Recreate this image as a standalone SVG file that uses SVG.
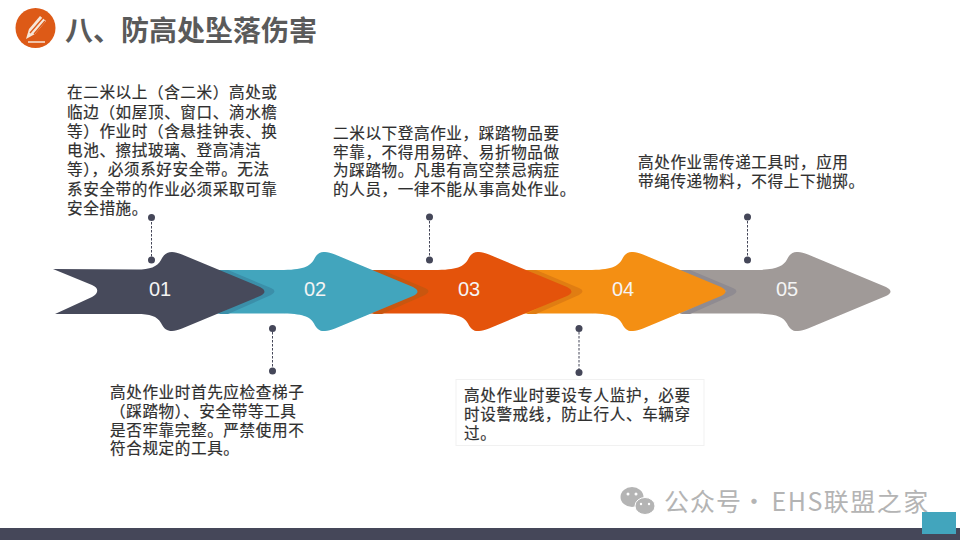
<svg xmlns="http://www.w3.org/2000/svg" width="960" height="540" viewBox="0 0 960 540">
<style>
.t{font-family:"Liberation Sans","Noto Sans CJK SC",sans-serif;font-size:15.6px;letter-spacing:.6px;fill:#2f2f2f;stroke:#2f2f2f;stroke-width:.2px;}
.n{font-family:"Liberation Sans",Arial,sans-serif;font-size:20px;fill:#f4f4f4;text-anchor:middle;}
.h{font-family:"Noto Sans CJK SC","Liberation Sans",sans-serif;font-size:28px;font-weight:700;fill:#5a5a5a;}
.c{stroke:#454759;stroke-width:1;stroke-dasharray:2.5 1.5;fill:none;}
.d{fill:#454759;}
</style>
<defs>
<path id="arrow" d="M-118 -21.500L-45 -21.500C-22 -21.500 -15 -25 -11 -32C-8 -38 -5 -40 0 -39.500C3 -39.500 6 -38.500 10 -37L88 -4.500C94 -1.500 94 1.500 88 4.500L10 37C6 38.500 3 39.500 0 39.500C-5 40 -8 38 -11 32C-15 25 -22 22 -45 22L-118 22Z"/>
</defs>
<rect width="960" height="540" fill="#fff"/>
<g id="header">
<circle cx="35.500" cy="28" r="20" fill="#dd5a17"/>
<path d="M26 39L29 29L40 16L46 21L35 34Z" fill="#f6e6d8"/>
<path d="M30 33L43 18M34 34L45 21" stroke="#dd5a17" stroke-width="1.300" fill="none"/>
<path d="M28 42H45" stroke="#f6e6d8" stroke-width="1.500"/>
<text class="h" x="65" y="41">八、</text>
<text class="h" x="121" y="41">防高处坠落伤害</text>
</g>
<g id="node-05"><use href="#arrow" x="798" y="291.500" fill="#a09a98"/>
<path d="M680 270L690 270L733 288Q740 291 733 295L690 314L680 314L727 291Z" fill="#8f8b91"/>
<text class="n" x="787" y="296">05</text></g>
<g id="node-04"><use href="#arrow" x="633" y="291.500" fill="#f48f13"/>
<path d="M526 270L536 270L579 288Q586 291 579 295L536 314L526 314L572 291Z" fill="#e07d12"/>
<text class="n" x="623" y="296">04</text></g>
<g id="node-03"><use href="#arrow" x="479" y="291.500" fill="#e4530b"/>
<path d="M372 270L382 270L425 288Q432 291 425 295L382 314L372 314L418 291Z" fill="#c9560f"/>
<text class="n" x="469" y="296">03</text></g>
<g id="node-02"><use href="#arrow" x="325" y="291.500" fill="#42a5bd"/>
<path d="M218 270L228 270L271 288Q278 291 271 295L228 314L218 314L265 291Z" fill="#3b8fa9"/>
<text class="n" x="315" y="296">02</text></g>
<g id="node-01"><path d="M53 269L137 269.500C150 269.500 157 267 161 260C164 254 167 252 172 252C175 252 178 253 182 254.500L260 287C266 290 266 293 260 296L182 328.500C178 330 175 331 172 331C167 331 164 329 161 323C157 316 150 314 137 314L55 314L92 297C99 293 99 288 92 285Z" fill="#474a5b"/>
<text class="n" x="160" y="296">01</text></g>
<g id="connectors">
<path class="c" d="M151.500 218V260M272.500 328V371M429.500 217V260M579 328V373M747.500 217V260"/>
<circle class="d" cx="151.500" cy="217.500" r="3.500"/><circle class="d" cx="151.500" cy="260" r="3.500"/>
<circle class="d" cx="272.500" cy="328.500" r="3.500"/><circle class="d" cx="272.500" cy="371" r="3.500"/>
<circle class="d" cx="429.500" cy="217" r="3.500"/><circle class="d" cx="429.500" cy="260" r="3.500"/>
<circle class="d" cx="579" cy="328.500" r="3.500"/><circle class="d" cx="579" cy="372.500" r="3.500"/>
<circle class="d" cx="747.500" cy="217" r="3.500"/><circle class="d" cx="747.500" cy="260" r="3.500"/>
</g>
<g id="text-01">
<text class="t"><tspan x="67" y="98">在二米以上（含二米）高处或</tspan><tspan x="67" y="118">临边（如屋顶、窗口、滴水檐</tspan><tspan x="67" y="137">等）作业时（含悬挂钟表、换</tspan><tspan x="67" y="156">电池、擦拭玻璃、登高清洁</tspan><tspan x="67" y="175">等），必须系好安全带。无法</tspan><tspan x="67" y="195">系安全带的作业必须采取可靠</tspan><tspan x="67" y="214">安全措施。</tspan></text>
</g>
<g id="text-02">
<text class="t"><tspan x="110" y="398">高处作业时首先应检查梯子</tspan><tspan x="110" y="417">（踩踏物）、安全带等工具</tspan><tspan x="110" y="436">是否牢靠完整。严禁使用不</tspan><tspan x="110" y="454">符合规定的工具。</tspan></text>
</g>
<g id="text-03">
<text class="t"><tspan x="333" y="139">二米以下登高作业，踩踏物品要</tspan><tspan x="333" y="158">牢靠，不得用易碎、易折物品做</tspan><tspan x="333" y="176">为踩踏物。凡患有高空禁忌病症</tspan><tspan x="333" y="195">的人员，一律不能从事高处作业。</tspan></text>
</g>
<g id="text-04">
<rect x="456" y="379.500" width="248" height="66" fill="#fff" stroke="#f1f1f1"/>
<text class="t"><tspan x="464" y="401">高处作业时要设专人监护，必要</tspan><tspan x="464" y="420">时设警戒线，防止行人、车辆穿</tspan><tspan x="464" y="439">过。</tspan></text>
</g>
<g id="text-05">
<text class="t"><tspan x="638" y="167.500">高处作业需传递工具时，应用</tspan><tspan x="638" y="186.500">带绳传递物料，不得上下抛掷。</tspan></text>
</g>
<g id="footer">
<rect x="0" y="528" width="960" height="12" fill="#454759"/>
</g>
<g id="watermark">
<ellipse cx="632" cy="497" rx="11.500" ry="10" fill="#b4b4b4"/>
<ellipse cx="645" cy="506" rx="10" ry="8.500" fill="#b4b4b4" stroke="#fff"/>
<circle cx="628" cy="494" r="1.500" fill="#fff"/><circle cx="636" cy="494" r="1.500" fill="#fff"/>
<circle cx="641" cy="504" r="1.200" fill="#fff"/><circle cx="649" cy="504" r="1.200" fill="#fff"/>
<text y="511" font-family="'Noto Sans CJK SC','Liberation Sans',sans-serif" font-size="25px" fill="#b4b4b4" letter-spacing="1"><tspan x="664">公众号</tspan> <tspan x="741.500">·</tspan> <tspan x="771.500" letter-spacing="1.500">EHS联盟之家</tspan></text>
</g>
<rect id="corner" x="922" y="512" width="34" height="22" fill="#42a5bd"/>
</svg>
